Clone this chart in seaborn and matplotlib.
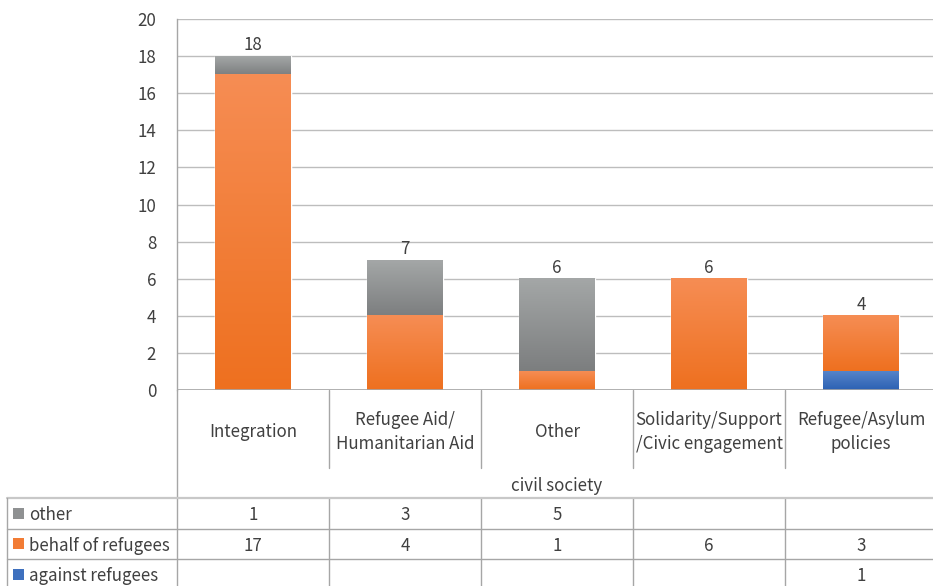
import numpy as np
import pandas as pd
import matplotlib
matplotlib.use("Agg")
import matplotlib.pyplot as plt
from matplotlib.colors import LinearSegmentedColormap
from matplotlib.patches import Rectangle
import seaborn as sns

# ---- data -------------------------------------------------------------
categories = ["Integration", "Refugee Aid/\nHumanitarian Aid", "Other",
              "Solidarity/Support\n/Civic engagement", "Refugee/Asylum\npolicies"]
group_label = "civil society"
series_names = ["other", "behalf of refugees", "against refugees"]
against_refugees = [0, 0, 0, 0, 1]
behalf_of_refugees = [17, 4, 1, 6, 3]
other = [1, 3, 5, 0, 0]
y_ticks = [0, 2, 4, 6, 8, 10, 12, 14, 16, 18, 20]

# ---- style ------------------------------------------------------------
sns.set_theme(style="white")
plt.rcParams["font.family"] = ["Noto Sans CJK SC", "DejaVu Sans"]
TXT = "#404040"
GRID = "#BDBDBD"
LINE = "#A6A6A6"
FS = 12.2

# gradient colours (top, bottom) and flat colours for the legend keys
grad = {
    "other": ("#A4A7A7", "#7C7E7F"),
    "behalf of refugees": ("#F68D54", "#EE701F"),
    "against refugees": ("#5684C9", "#2C61B3"),
}
flat = {"other": "#8F9192", "behalf of refugees": "#F27C35", "against refugees": "#3E70BE"}

W, H = 933, 586
fig = plt.figure(figsize=(W / 100, H / 100), dpi=100)

# layout in pixels
plot_l, plot_r, plot_t, plot_b = 177, 937, 19, 390
ax = fig.add_axes([plot_l / W, 1 - plot_b / H, (plot_r - plot_l) / W, (plot_b - plot_t) / H])

# ---- stacked bars (drawn cumulative, largest first) -------------------
df = pd.DataFrame({"cat": categories,
                   "against refugees": against_refugees,
                   "behalf of refugees": behalf_of_refugees,
                   "other": other})
df["c1"] = df["against refugees"]
df["c2"] = df["c1"] + df["behalf of refugees"]
df["c3"] = df["c2"] + df["other"]

layers = [("other", "c2", "c3"), ("behalf of refugees", "c1", "c2"), ("against refugees", None, "c1")]
for name, lo, hi in layers:
    sns.barplot(data=df, x="cat", y=hi, color=flat[name], width=0.5,
                saturation=1, ax=ax, zorder=2)

# overlay a vertical gradient on each visible segment
gvals = np.linspace(0, 1, 256).reshape(-1, 1)
for name, lo, hi in layers:
    cmap = LinearSegmentedColormap.from_list(name, [grad[name][1], grad[name][0]])
    for i in range(len(df)):
        bottom = 0 if lo is None else df[lo].iloc[i]
        top = df[hi].iloc[i]
        if top - bottom <= 0:
            continue
        ax.imshow(gvals, cmap=cmap, origin="lower", aspect="auto",
                  extent=[i - 0.25, i + 0.25, bottom, top], zorder=3,
                  interpolation="bilinear")

# totals above the bars
for i, tot in enumerate(df["c3"]):
    ax.annotate(f"{tot}", (i, tot), xytext=(0, 1.5), textcoords="offset points",
                ha="center", va="bottom", fontsize=FS, color=TXT)

ax.set_xlim(-0.5, len(categories) - 0.5)
ax.set_ylim(0, 20)
ax.set_yticks(y_ticks)
ax.set_yticklabels([str(t) for t in y_ticks], fontsize=FS, color=TXT)
ax.tick_params(axis="y", length=0, pad=15)
ax.set_xticks([])
ax.set_xlabel("")
ax.set_ylabel("")
ax.yaxis.grid(True, color=GRID, linewidth=1.0, zorder=0)
ax.set_axisbelow(True)
for s in ["top", "right", "bottom"]:
    ax.spines[s].set_visible(False)
ax.spines["left"].set_color(LINE)
ax.spines["left"].set_linewidth(1.0)
ax.axhline(0, color=LINE, linewidth=1.2, zorder=4)

# ---- data table below the plot ----------------------------------------
tab = fig.add_axes([0, 0, 1, 1], zorder=-1)
tab.set_xlim(0, W)
tab.set_ylim(H, 0)
tab.axis("off")

col_w = (plot_r - plot_l) / len(categories)
cat_bottom, group_bottom = 468, 498
row_h = 30.5
rows_top = group_bottom
lw = 1.0
dy = 2  # optical baseline correction for centred text

# left axis line continues through the table
tab.plot([plot_l, plot_l], [plot_b, H], color=LINE, lw=lw)
# category separators
for k in range(1, len(categories)):
    x = plot_l + k * col_w
    tab.plot([x, x], [plot_b, cat_bottom], color=LINE, lw=lw)
    tab.plot([x, x], [rows_top, H], color=LINE, lw=lw)
# category labels
for i, c in enumerate(categories):
    tab.text(plot_l + (i + 0.5) * col_w, 430 + dy, c, ha="center", va="center",
             fontsize=FS, color=TXT, linespacing=1.45)
# group label
tab.text(plot_l + len(categories) * col_w / 2, 484 + dy, group_label,
         ha="center", va="center", fontsize=FS, color=TXT)

# table rows
row_series = [("other", other), ("behalf of refugees", behalf_of_refugees),
              ("against refugees", against_refugees)]
tab.plot([7, plot_r], [rows_top, rows_top], color="#C8C8C8", lw=1.6)
tab.plot([7, 7], [rows_top, H], color=LINE, lw=lw)
for r, (name, vals) in enumerate(row_series):
    y0 = rows_top + r * row_h
    yc = y0 + row_h / 2
    if r > 0:
        tab.plot([7, plot_r], [y0, y0], color=LINE, lw=lw)
    tab.add_patch(Rectangle((13, yc - 5.5), 11, 11, color=flat[name], lw=0))
    tab.text(29, yc + dy, name, ha="left", va="center", fontsize=FS, color=TXT)
    for i, v in enumerate(vals):
        if v:
            tab.text(plot_l + (i + 0.5) * col_w, yc + dy, str(v), ha="center",
                     va="center", fontsize=FS, color=TXT)

fig.savefig("out.png", dpi=100)
